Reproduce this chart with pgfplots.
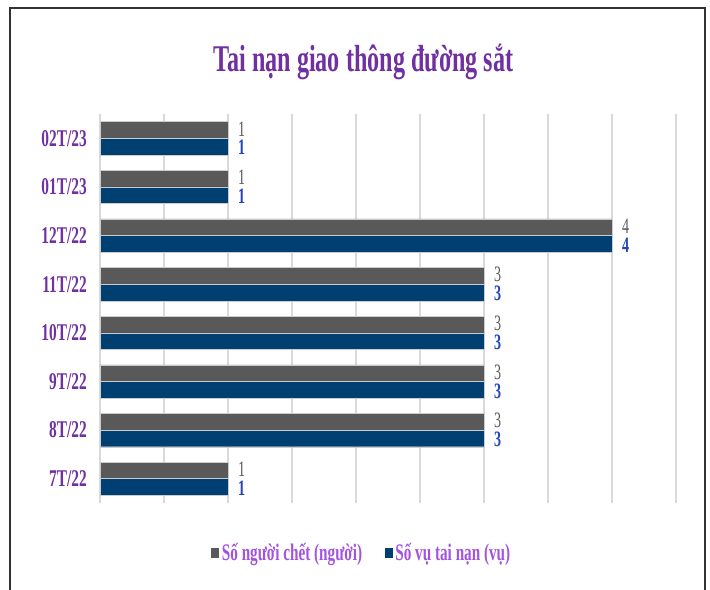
\documentclass[border=0pt]{standalone}
\usepackage{fontspec}
\setmainfont{Liberation Serif}[FakeStretch=0.64]
\usepackage{pgfplots}
\pgfplotsset{compat=1.18}

\definecolor{titlepurple}{HTML}{7030A0}
\definecolor{legpurple}{HTML}{A453E0}
\definecolor{bargray}{HTML}{595959}
\definecolor{barblue}{HTML}{003F72}
\definecolor{lblblue}{HTML}{2443B8}
\definecolor{gridgray}{HTML}{D9D9D9}

\begin{document}
\begin{tikzpicture}
\useasboundingbox (0,0) rectangle (532.5pt,441.75pt);
\fill[white] (0,0) rectangle (532.5pt,441.75pt);
% chart frame
\draw[black!80, line width=1.2pt] (7.5pt,-5pt) -- (7.5pt,435.75pt) -- (528.75pt,435.75pt) -- (528.75pt,-5pt);

\node[anchor=base, text=titlepurple, font=\fontsize{28.3}{32}\selectfont\bfseries]
  at (272.6pt,387.75pt) {Tai nạn giao thông đường sắt};

\begin{axis}[
  at={(75pt,64.5pt)}, anchor=south west,
  scale only axis, width=432pt, height=291.75pt,
  xbar, bar width=12.5pt,
  xmin=0, xmax=4.5, ymin=-0.5, ymax=7.5,
  xtick={0,0.5,...,4.5}, xticklabels={},
  xmajorgrids, major grid style={draw=gridgray, line width=0.9pt},
  axis line style={draw=none}, tick style={draw=none},
  ytick={0,...,7},
  yticklabels={7T/22,8T/22,9T/22,10T/22,11T/22,12T/22,01T/23,02T/23},
  y tick label style={font=\fontsize{18}{20}\selectfont\bfseries, text=titlepurple, inner sep=0pt, xshift=-5.5pt},
  /pgf/number format/assume math mode=true,
  nodes near coords,
  nodes near coords style={anchor=west, inner sep=0pt, xshift=7.5pt},
  legend columns=2,
  legend style={at={(0.455,0)}, anchor=center, yshift=-37.5pt, draw=none, fill=none,
    font=\fontsize{17.8}{19}\selectfont\bfseries, text=legpurple,
    /tikz/every even column/.append style={column sep=15pt}},
  legend image code/.code={\draw[#1, draw=none] (0pt,-4pt) rectangle (6pt,4pt);},
]
\addplot[fill=bargray, draw=white!80!black, line width=0.3pt, bar shift=6.25pt,
  every node near coord/.append style={text=bargray, yshift=0.8pt, font=\fontsize{16.5}{18}\selectfont}]
  coordinates {(1,0) (3,1) (3,2) (3,3) (3,4) (4,5) (1,6) (1,7)};
\addplot[fill=barblue, draw=white!80!black, line width=0.3pt, bar shift=-6.25pt,
  every node near coord/.append style={text=lblblue, yshift=-0.8pt, font=\fontsize{16.5}{18}\selectfont\bfseries}]
  coordinates {(1,0) (3,1) (3,2) (3,3) (3,4) (4,5) (1,6) (1,7)};
\legend{Số người chết (người), Số vụ tai nạn (vụ)}
\end{axis}
\end{tikzpicture}
\end{document}
